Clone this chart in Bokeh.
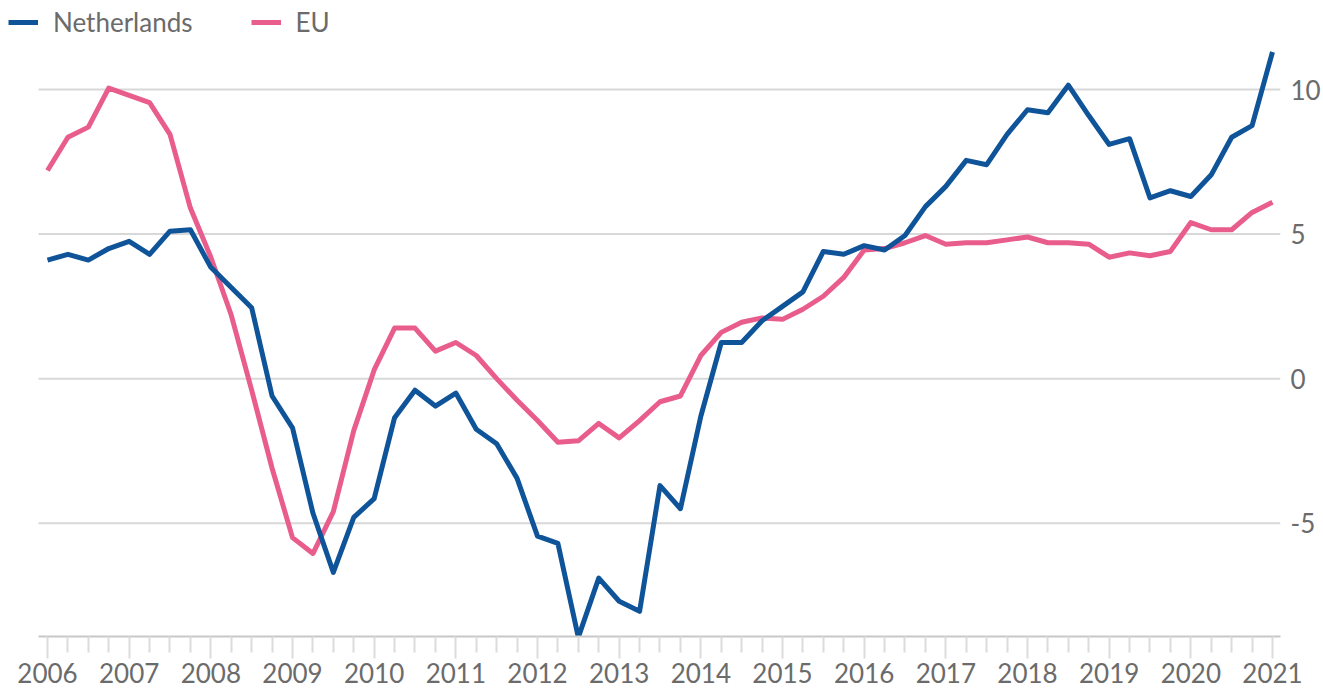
from bokeh.plotting import figure
from bokeh.models import FixedTicker, Legend, LegendItem, Range1d
from bokeh.embed import file_html
from bokeh.resources import INLINE

# ---- data (quarterly, 2006 Q1 - 2021 Q1) ----
start_year = 2006
netherlands = [4.1, 4.3, 4.1, 4.5, 4.75, 4.3, 5.1, 5.15, 3.85, 3.15, 2.45,
               -0.6, -1.7, -4.65, -6.7, -4.8, -4.15, -1.35, -0.4, -0.95, -0.5,
               -1.75, -2.25, -3.45, -5.45, -5.7, -8.95, -6.9, -7.7, -8.05, -3.7,
               -4.5, -1.3, 1.25, 1.25, 2.0, 2.5, 3.0, 4.4, 4.3, 4.6,
               4.45, 4.95, 5.95, 6.65, 7.55, 7.4, 8.45, 9.3, 9.2, 10.15,
               9.1, 8.1, 8.3, 6.25, 6.5, 6.3, 7.05, 8.35, 8.75, 11.3]
eu = [7.2, 8.35, 8.7, 10.05, 9.8, 9.55, 8.45, 5.9, 4.2, 2.2, -0.4,
      -3.1, -5.5, -6.05, -4.6, -1.8, 0.3, 1.75, 1.75, 0.95, 1.25,
      0.8, 0.0, -0.75, -1.45, -2.2, -2.15, -1.55, -2.05, -1.45, -0.8,
      -0.6, 0.8, 1.6, 1.95, 2.1, 2.05, 2.4, 2.85, 3.5, 4.45,
      4.5, 4.7, 4.95, 4.65, 4.7, 4.7, 4.8, 4.9, 4.7, 4.7,
      4.65, 4.2, 4.35, 4.25, 4.4, 5.4, 5.15, 5.15, 5.75, 6.1]
year_ticks = list(range(2006, 2022))
y_ticks = [-5, 0, 5, 10]
y_tick_labels = ["-5", "0", "5", "10"]
series_names = ["Netherlands", "EU"]
series_colors = ["#0f5499", "#e95d8c"]

quarters = [start_year + i / 4 for i in range(len(netherlands))]
quarter_ticks = [y + q / 4 for y in year_ticks[:-1] for q in range(1, 4)]

TEXT = "#6b6b6b"
FONT = "Lato"

X_START, X_END = 2005.5225, 2021.098   # frame extent (legend sits at frame left)
GRID_START = 2005.89                   # where grid / axis line begin

p = figure(width=1323, height=693, output_backend="svg", toolbar_location=None,
           x_range=Range1d(X_START, X_END), y_range=Range1d(-8.92, 13.08),
           y_axis_location="right", min_border_left=8, min_border_right=43,
           min_border_top=0, min_border_bottom=57)
p.outline_line_color = None
p.background_fill_color = "white"
p.border_fill_color = "white"

# horizontal grid lines (start at the axis start, not at the frame edge)
p.segment(x0=[GRID_START] * len(y_ticks), x1=[X_END] * len(y_ticks),
          y0=y_ticks, y1=y_ticks, line_color="#d8d8d8", line_width=2)

r_eu = p.line(quarters, eu, line_color=series_colors[1], line_width=5,
              line_join="round")
r_nl = p.line(quarters, netherlands, line_color=series_colors[0], line_width=5,
              line_join="round")

# x axis
xa = p.xaxis[0]
xa.bounds = (GRID_START, X_END)
xa.ticker = FixedTicker(ticks=year_ticks, minor_ticks=quarter_ticks)
xa.axis_line_color = "#c8c8c8"
xa.axis_line_width = 2
xa.major_tick_line_color = "#dcdcdc"
xa.major_tick_line_width = 2
xa.minor_tick_line_color = "#dcdcdc"
xa.minor_tick_line_width = 2
xa.major_tick_in = 0
xa.minor_tick_in = 0
xa.major_tick_out = 22
xa.minor_tick_out = 16
xa.major_label_standoff = 4
xa.major_label_text_font = FONT
xa.major_label_text_font_size = "26px"
xa.major_label_text_color = TEXT

# y axis (right)
ya = p.yaxis[0]
ya.ticker = FixedTicker(ticks=y_ticks)
ya.major_label_overrides = {t: s for t, s in zip(y_ticks, y_tick_labels)}
ya.axis_line_color = None
ya.major_tick_line_color = None
ya.minor_tick_line_color = None
ya.major_tick_out = 0
ya.major_tick_in = 0
ya.major_label_standoff = 10
ya.major_label_text_font = FONT
ya.major_label_text_font_size = "26px"
ya.major_label_text_color = TEXT

p.xgrid.grid_line_color = None
p.ygrid.grid_line_color = None

legend = Legend(items=[LegendItem(label=series_names[0], renderers=[r_nl]),
                       LegendItem(label=series_names[1], renderers=[r_eu])],
                orientation="horizontal", location=(0, 598),
                glyph_width=30, glyph_height=20, label_standoff=15, spacing=58,
                padding=0, margin=0, border_line_color=None,
                background_fill_alpha=0,
                label_text_font=FONT, label_text_font_size="26px",
                label_text_color=TEXT)
p.add_layout(legend, "center")

open("out.html", "w").write(file_html(p, INLINE))
